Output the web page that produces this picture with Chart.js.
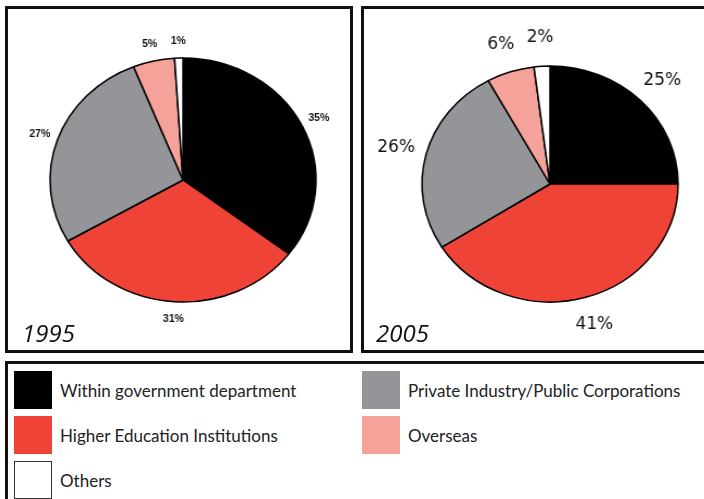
<!DOCTYPE html>
<html lang="en">
<head>
    <meta charset="UTF-8">
    <title>Research funding 1995 / 2005</title>
    <script src="https://cdn.jsdelivr.net/npm/chart.js@4/dist/chart.umd.min.js"></script>
    <style>
        html, body { margin: 0; padding: 0; background: #fff; }
        body { width: 704px; height: 499px; overflow: hidden; position: relative; }
        .box { position: absolute; box-sizing: border-box; border: 3px solid #111; }
        .pie { position: absolute; }
        .year { position: absolute; font-family: "Open Sans", sans-serif; font-style: italic;
                font-size: 24px; line-height: 24px; color: #111; }
        #legend { display: grid; grid-template-columns: 348px 340px; grid-template-rows: repeat(3, 45px);
                  grid-auto-flow: column; position: absolute; left: 14px; top: 371px; }
        .item { display: flex; align-items: center; height: 38px; }
        .sw { width: 38px; height: 38px; box-sizing: border-box; margin-right: 8px; }
        .item span { font-family: Lato, sans-serif; font-size: 17px; color: #222; }
    </style>
</head>
<body>
    <div class="box" style="left:5px; top:6px; width:348px; height:347px;"></div>
    <div class="box" style="left:361px; top:6px; width:380px; height:347px;"></div>
    <div class="box" style="left:5px; top:361px; width:740px; height:170px;"></div>

    <div class="pie" style="left:23px; top:20px; width:320px; height:320px; transform:scaleX(1.09);">
        <canvas id="pie1995"></canvas>
    </div>
    <div class="pie" style="left:380px; top:14px; width:340px; height:340px; transform:scaleX(1.085);">
        <canvas id="pie2005"></canvas>
    </div>

    <div class="year" style="left:22px; top:321px;">1995</div>
    <div class="year" style="left:376px; top:321px;">2005</div>

    <div id="legend"></div>

    <script>
        var categories = ['Within government department', 'Higher Education Institutions',
                          'Private Industry/Public Corporations', 'Overseas', 'Others'];
        var values1995 = [35, 31, 27, 5, 1];
        var values2005 = [25, 41, 26, 6, 2];
        var colors = ['#000000', '#ef4338', '#939598', '#f5a29b', '#ffffff'];
        // legend goes down the first column, then the second
        var legendOrder = [0, 1, 4, 2, 3];

        // percent labels outside the slices; text is un-stretched against the css scaleX
        var outsideLabels = {
            id: 'outsideLabels',
            afterDatasetsDraw: function (chart, args, opts) {
                var ctx = chart.ctx;
                var data = chart.data.datasets[0].data;
                chart.getDatasetMeta(0).data.forEach(function (arc, i) {
                    var p = arc.getProps(['x', 'y', 'startAngle', 'endAngle', 'outerRadius'], true);
                    var mid = (p.startAngle + p.endAngle) / 2;
                    var r = p.outerRadius * opts.factor;
                    ctx.save();
                    ctx.translate(p.x + Math.cos(mid) * r, p.y + Math.sin(mid) * r);
                    ctx.scale(1 / opts.stretch, 1);
                    ctx.font = opts.font;
                    ctx.fillStyle = '#111';
                    ctx.textAlign = 'center';
                    ctx.textBaseline = 'middle';
                    ctx.fillText(data[i] + '%', 0, 0);
                    ctx.restore();
                });
            }
        };

        function makePie(id, values, radius, labelOpts) {
            return new Chart(document.getElementById(id), {
                type: 'pie',
                data: {
                    labels: categories,
                    datasets: [{
                        data: values,
                        backgroundColor: colors,
                        borderColor: '#000',
                        borderWidth: 1.5,
                        radius: radius
                    }]
                },
                options: {
                    responsive: true,
                    maintainAspectRatio: false,
                    animation: false,
                    layout: { padding: 0 },
                    plugins: {
                        legend: { display: false },
                        tooltip: { enabled: false },
                        outsideLabels: labelOpts
                    }
                },
                plugins: [outsideLabels]
            });
        }

        makePie('pie1995', values1995, 122, { factor: 1.14, stretch: 1.09, font: 'bold 10.5px "Liberation Sans"' });
        makePie('pie2005', values2005, 118, { factor: 1.24, stretch: 1.085, font: '17px "DejaVu Sans"' });

        var legend = document.getElementById('legend');
        legendOrder.forEach(function (i) {
            var item = document.createElement('div');
            item.className = 'item';
            var sw = document.createElement('div');
            sw.className = 'sw';
            sw.style.background = colors[i];
            if (i === 4) sw.style.border = '1.5px solid #333';
            var txt = document.createElement('span');
            txt.textContent = categories[i];
            item.appendChild(sw);
            item.appendChild(txt);
            legend.appendChild(item);
        });
    </script>
</body>
</html>
